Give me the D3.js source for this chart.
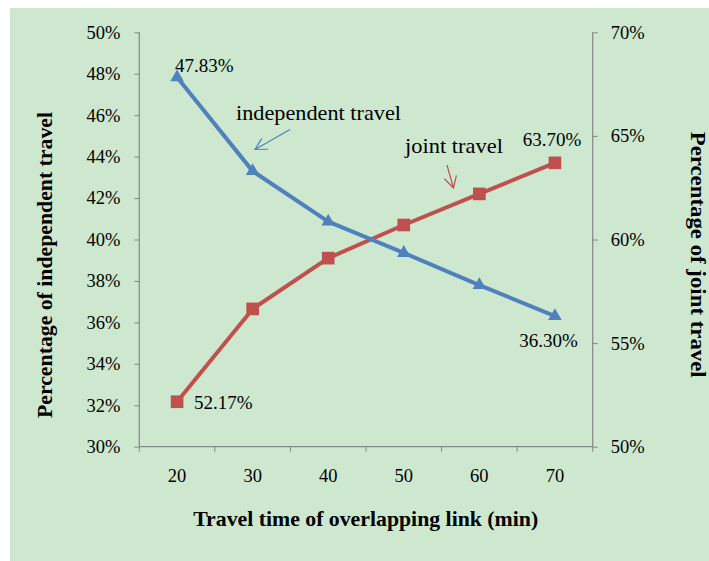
<!DOCTYPE html>
<html>
<head>
<meta charset="utf-8">
<script src="https://cdn.jsdelivr.net/npm/d3@7"></script>
<style>
  html, body { margin: 0; padding: 0; background: #ffffff; }
  svg { display: block; }
  text { font-family: "Liberation Serif", "Times New Roman", serif; fill: #000; }
</style>
</head>
<body>
<svg id="chart" width="709" height="561"></svg>
<script>
// Travel time of the overlapping link (minutes)
const categories = [20, 30, 40, 50, 60, 70];
// Share of travellers choosing independent travel (left axis)
const independentValues = [0.4783, 0.4330, 0.4086, 0.3935, 0.3780, 0.3630];
// Share of travellers choosing joint travel (right axis)
const jointValues = [0.5217, 0.5665, 0.5910, 0.6070, 0.6220, 0.6370];
// Axis tick values
const leftTicks = [0.30, 0.32, 0.34, 0.36, 0.38, 0.40, 0.42, 0.44, 0.46, 0.48, 0.50];
const rightTicks = [0.50, 0.55, 0.60, 0.65, 0.70];

const blue = "#4F81BD";
const red = "#C0504D";
const axisGrey = "#868686";

const svg = d3.select("#chart");

// green chart area
svg.append("rect")
  .attr("x", 10).attr("y", 8)
  .attr("width", 699).attr("height", 553)
  .attr("fill", "#CDE8CF");

const plot = { left: 139.3, right: 592.7, top: 32.3, bottom: 446.7 };

const x = d3.scaleBand().domain(categories).range([plot.left, plot.right]).padding(0);
const yL = d3.scaleLinear().domain([0.30, 0.50]).range([plot.bottom, plot.top]);
const yR = d3.scaleLinear().domain([0.50, 0.70]).range([plot.bottom, plot.top]);
const cx = d => x(d) + x.bandwidth() / 2;
const pct = d3.format(".0%");
const pct2 = d3.format(".2%");

// Left axis
const gL = svg.append("g")
  .attr("transform", `translate(${plot.left},0)`)
  .call(d3.axisLeft(yL).tickValues(leftTicks).tickFormat(pct).tickSize(5).tickPadding(14));
// Right axis
const gR = svg.append("g")
  .attr("transform", `translate(${plot.right},0)`)
  .call(d3.axisRight(yR).tickValues(rightTicks).tickFormat(pct).tickSize(5).tickPadding(13));
// Bottom axis: labels centred in each band, ticks on band boundaries
const gB = svg.append("g")
  .attr("transform", `translate(0,${plot.bottom})`)
  .call(d3.axisBottom(x).tickSize(0).tickPadding(22));
gB.selectAll(".boundary")
  .data(categories.concat([null]))
  .enter().append("line")
  .attr("class", "boundary")
  .attr("x1", d => d === null ? x.range()[1] : x(d))
  .attr("x2", d => d === null ? x.range()[1] : x(d))
  .attr("y1", 0).attr("y2", 5)
  .attr("stroke", axisGrey);

[gL, gR, gB].forEach(g => {
  g.selectAll(".domain").attr("stroke", axisGrey).attr("stroke-width", 1.2);
  g.selectAll(".tick line").attr("stroke", axisGrey);
  g.selectAll(".tick text")
    .style("font-family", "'Liberation Serif', 'Times New Roman', serif")
    .style("font-size", "18.5px")
    .attr("fill", "#000");
});
gL.select(".domain").attr("d", `M0,${plot.top}V${plot.bottom}`);
gR.select(".domain").attr("d", `M0,${plot.top}V${plot.bottom}`);
gB.select(".domain").attr("d", `M${plot.left},0H${plot.right}`);

// Axis titles
svg.append("text")
  .attr("x", 365.7).attr("y", 526)
  .attr("text-anchor", "middle")
  .attr("textLength", 345).attr("lengthAdjust", "spacingAndGlyphs")
  .style("font-weight", "bold").style("font-size", "22px")
  .text("Travel time of overlapping link (min)");
svg.append("text")
  .attr("transform", "translate(51.5,265) rotate(-90)")
  .attr("text-anchor", "middle")
  .attr("textLength", 306).attr("lengthAdjust", "spacingAndGlyphs")
  .style("font-weight", "bold").style("font-size", "21px")
  .text("Percentage of independent travel");
svg.append("text")
  .attr("transform", "translate(690.5,254.7) rotate(90)")
  .attr("text-anchor", "middle")
  .attr("textLength", 246).attr("lengthAdjust", "spacingAndGlyphs")
  .style("font-weight", "bold").style("font-size", "21px")
  .text("Percentage of joint travel");

// Series lines
const lineL = d3.line().x((d, i) => cx(categories[i])).y(d => yL(d));
const lineR = d3.line().x((d, i) => cx(categories[i])).y(d => yR(d));

svg.append("path").datum(jointValues)
  .attr("d", lineR).attr("fill", "none")
  .attr("stroke", red).attr("stroke-width", 4).attr("stroke-linejoin", "round");
svg.append("path").datum(independentValues)
  .attr("d", lineL).attr("fill", "none")
  .attr("stroke", blue).attr("stroke-width", 4).attr("stroke-linejoin", "round");

// Markers
svg.selectAll(".sq").data(jointValues).enter().append("path")
  .attr("class", "sq")
  .attr("d", d3.symbol(d3.symbolSquare, 160)())
  .attr("transform", (d, i) => `translate(${cx(categories[i])},${yR(d)})`)
  .attr("fill", red);
svg.selectAll(".tri").data(independentValues).enter().append("path")
  .attr("class", "tri")
  .attr("d", d3.symbol(d3.symbolTriangle, 80)())
  .attr("transform", (d, i) => `translate(${cx(categories[i])},${yL(d)})`)
  .attr("fill", blue);

// Data labels at the first and last points
const last = categories.length - 1;
const lbl = (t, px, py, anchor, size) => svg.append("text")
  .attr("x", px).attr("y", py).attr("text-anchor", anchor)
  .style("font-size", (size || 19) + "px").text(t);
lbl(pct2(independentValues[0]), cx(categories[0]) - 2, yL(independentValues[0]) - 5, "start");
lbl(pct2(jointValues[0]), cx(categories[0]) + 17, yR(jointValues[0]) + 7, "start");
lbl(pct2(jointValues[last]), cx(categories[last]) - 3, yR(jointValues[last]) - 17, "middle");
lbl(pct2(independentValues[last]), cx(categories[last]) + 23, yL(independentValues[last]) + 31, "end");

// Series name callouts with arrows
lbl("independent travel", 236, 120, "start", 22)
  .attr("textLength", 165).attr("lengthAdjust", "spacingAndGlyphs");
lbl("joint travel", 405, 153, "start", 22)
  .attr("textLength", 98).attr("lengthAdjust", "spacingAndGlyphs");

function arrow(x1, y1, x2, y2, color) {
  const ang = Math.atan2(y2 - y1, x2 - x1);
  const len = 13, spread = 0.5;
  const a1 = [x2 - len * Math.cos(ang - spread), y2 - len * Math.sin(ang - spread)];
  const a2 = [x2 - len * Math.cos(ang + spread), y2 - len * Math.sin(ang + spread)];
  svg.append("path")
    .attr("d", `M${x1},${y1}L${x2},${y2}M${a1[0]},${a1[1]}L${x2},${y2}L${a2[0]},${a2[1]}`)
    .attr("fill", "none").attr("stroke", color).attr("stroke-width", 1.2);
}
arrow(290, 129.5, 255, 149.5, blue);
arrow(447, 165, 453.5, 188, red);
</script>
</body>
</html>
